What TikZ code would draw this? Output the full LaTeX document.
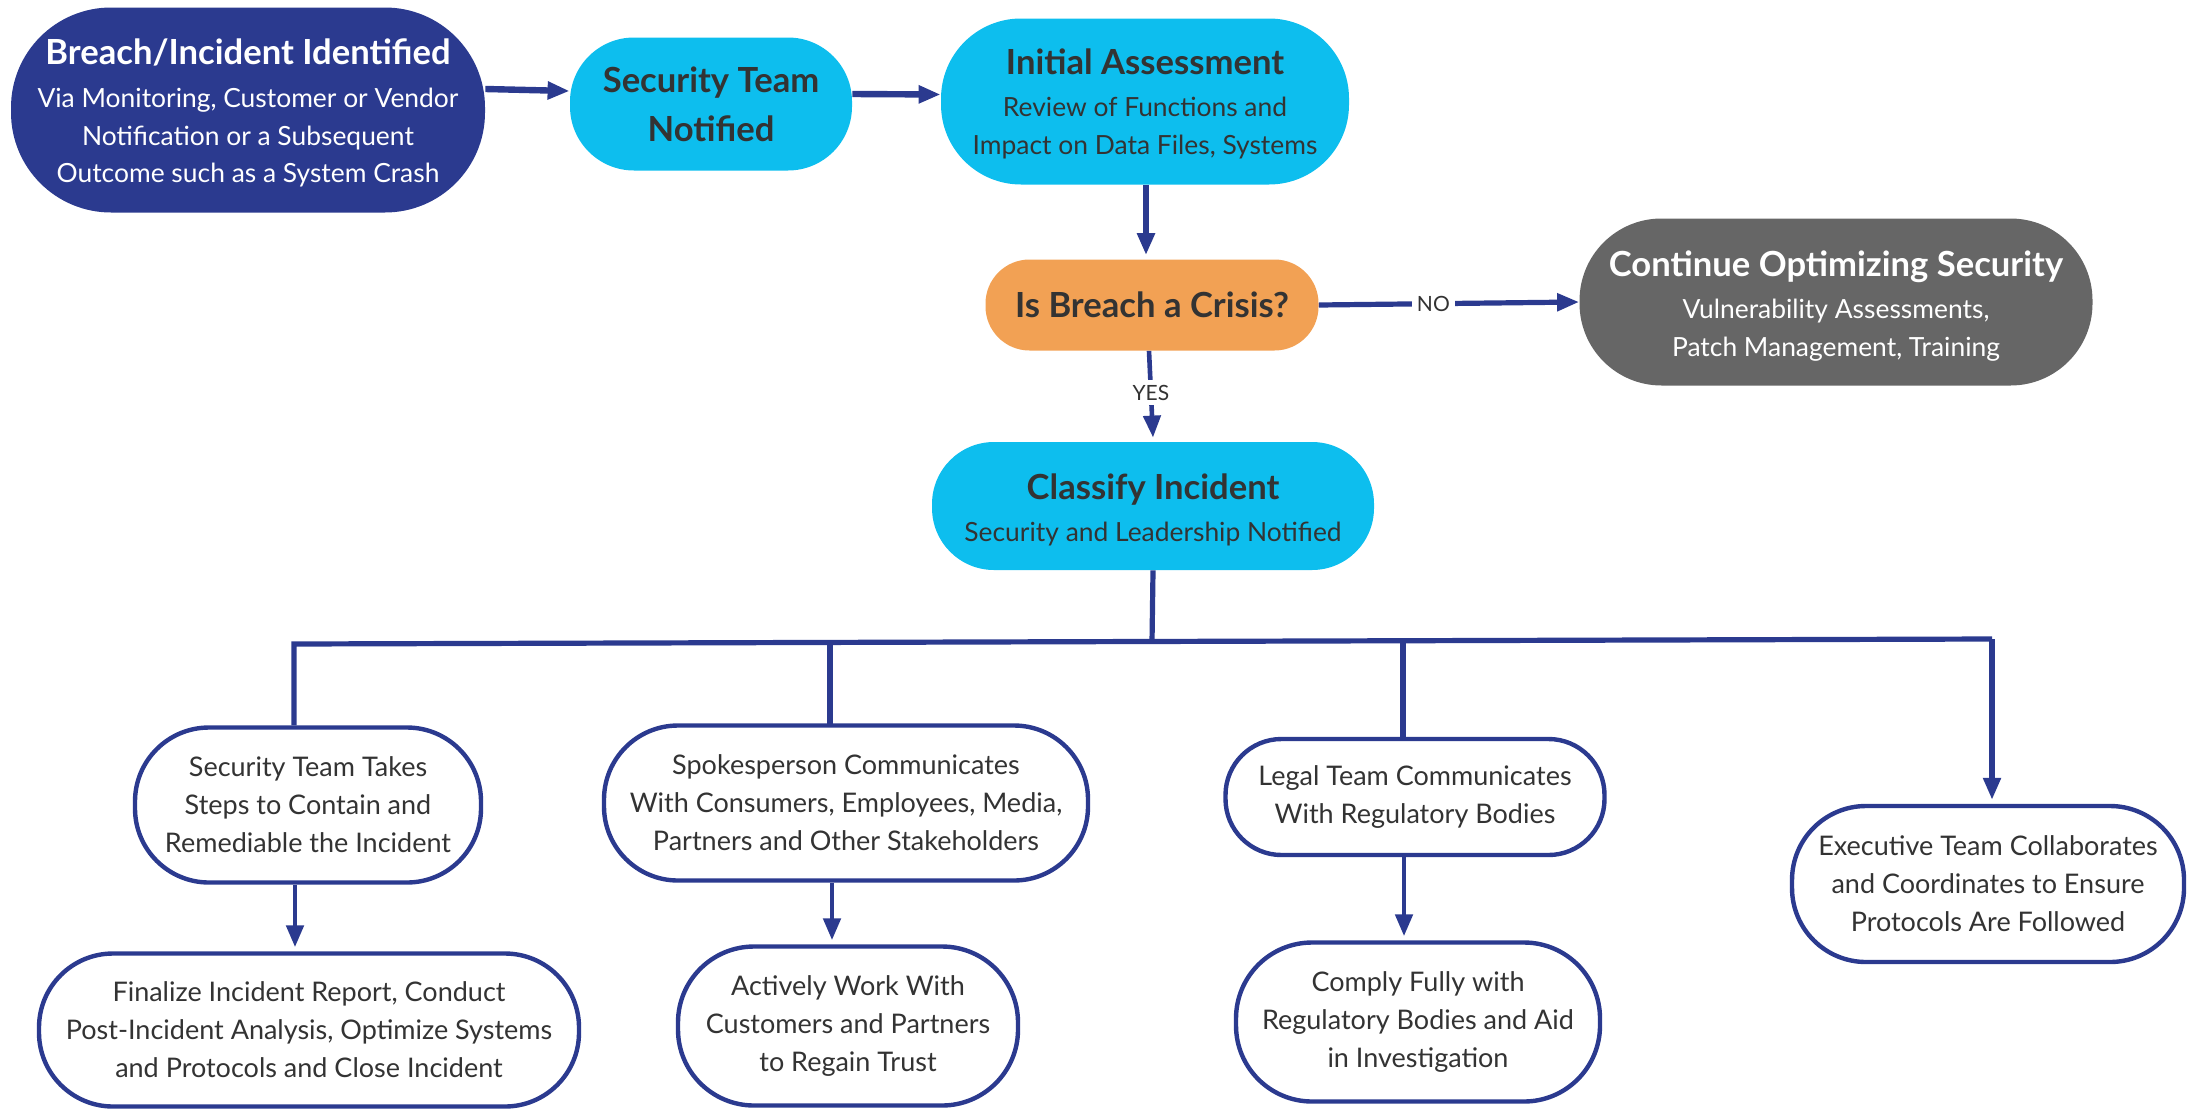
\documentclass[tikz,border=0pt]{standalone}
\usepackage{fontspec}
\setmainfont{Lato}
\usetikzlibrary{arrows.meta}
\definecolor{navy}{RGB}{43,58,143}
\definecolor{cyanfill}{RGB}{13,190,238}
\definecolor{orangefill}{RGB}{242,161,84}
\definecolor{grayfill}{RGB}{102,102,102}
\definecolor{txt}{RGB}{51,51,51}
\newcommand\ttlf{\fontsize{17.3}{21}\selectfont\bfseries}
\newcommand\bodyf{\fontsize{13.2}{18.9}\selectfont}
\newcommand\lowf{\fontsize{13.5}{19}\selectfont}
\newcommand\lblf{\fontsize{10.5}{12}\selectfont}
\begin{document}
\begin{tikzpicture}[x=0.5pt,y=-0.5pt,
  box/.style={align=center, inner sep=0pt, text=txt, font=\bodyf},
  darkbox/.style={box, fill=navy, text=white},
  cyanbox/.style={box, fill=cyanfill},
  orangebox/.style={box, fill=orangefill},
  graybox/.style={box, fill=grayfill, text=white},
  whitebox/.style={box, draw=navy, line width=2.2pt, fill=white, font=\lowf},
  conn/.style={draw=navy, line width=2.6pt},
  thick conn/.style={conn, line width=3.2pt},
  arr/.style={conn, -{Triangle[length=11pt,width=8.5pt]}},
  lbl/.style={fill=white, text=txt, font=\lblf, inner sep=2.5pt}
]
\useasboundingbox (0,0) rectangle (2187,1108);

\node[darkbox, minimum width=237pt, minimum height=102.5pt, rounded corners=50pt] (A) at (248,110)
  {{\ttlf\rule{0pt}{16pt}Breach/Incident Identified}\\[2.5pt]
   Via Monitoring, Customer or Vendor\\
   Notification or a Subsequent\\
   Outcome such as a System Crash};
\node[cyanbox, minimum width=141pt, minimum height=66.5pt, rounded corners=32pt] (B) at (711,104)
  {{\ttlf Security Team}\\[5.5pt]{\ttlf Notified}};
\node[cyanbox, minimum width=204pt, minimum height=83pt, rounded corners=40pt] (C) at (1145,101.5)
  {{\ttlf\rule{0pt}{15pt}Initial Assessment}\\[2pt]
   Review of Functions and\\
   Impact on Data Files, Systems};
\node[orangebox, minimum width=166.5pt, minimum height=45.5pt, rounded corners=22pt] (D) at (1152,305)
  {{\ttlf Is Breach a Crisis?}};
\node[graybox, minimum width=256.5pt, minimum height=83.5pt, rounded corners=41pt] (E) at (1836,302)
  {{\ttlf\rule{0pt}{17pt}Continue Optimizing Security}\\[2pt]
   Vulnerability Assessments,\\
   Patch Management, Training};
\node[cyanbox, minimum width=221pt, minimum height=64pt, rounded corners=31pt] (F) at (1153,506)
  {{\ttlf\rule{0pt}{17pt}Classify Incident}\\[2pt]
   Security and Leadership Notified};

\node[whitebox, minimum width=173pt, minimum height=77.5pt, rounded corners=37pt] (G1) at (308,805)
  {Security Team Takes\\Steps to Contain and\\Remediable the Incident};
\node[whitebox, minimum width=242pt, minimum height=77.5pt, rounded corners=37pt] (G2) at (846,803)
  {Spokesperson Communicates\\With Consumers, Employees, Media,\\Partners and Other Stakeholders};
\node[whitebox, minimum width=189.5pt, minimum height=58pt, rounded corners=28pt] (G3) at (1415,797)
  {Legal Team Communicates\\With Regulatory Bodies};
\node[whitebox, minimum width=196pt, minimum height=78pt, rounded corners=37pt] (G4) at (1988,884)
  {Executive Team Collaborates\\and Coordinates to Ensure\\Protocols Are Followed};
\node[whitebox, minimum width=270pt, minimum height=76.5pt, rounded corners=37pt] (H1) at (309,1030)
  {Finalize Incident Report, Conduct\\Post-Incident Analysis, Optimize Systems\\and Protocols and Close Incident};
\node[whitebox, minimum width=170pt, minimum height=79.5pt, rounded corners=38pt] (H2) at (848,1026)
  {Actively Work With\\Customers and Partners\\to Regain Trust};
\node[whitebox, minimum width=182pt, minimum height=79.5pt, rounded corners=38pt] (H3) at (1418,1022)
  {Comply Fully with\\Regulatory Bodies and Aid\\in Investigation};

% top row
\draw[arr, thick conn] ([yshift=10.5pt]A.east) -- ([yshift=6.5pt]B.west);
\draw[arr, thick conn] ([yshift=5pt]B.east) -- ([yshift=3.5pt]C.west);
\draw[arr, thick conn] ([xshift=0.5pt]C.south) -- ([yshift=2pt,xshift=-3pt]D.north);
\draw[arr] (D.east) -- node[lbl, pos=0.44]{NO} (E.west);
\draw[arr, line width=2.3pt] ([xshift=-1.5pt]D.south) -- node[lbl, pos=0.48]{YES} ([yshift=2pt]F.north);

% bus
\coordinate (busC) at (1152,642);
\coordinate (busL) at (294,644);
\coordinate (busR) at (1992,639);
\draw[conn] (F.south) -- (busC);
\draw[conn, line join=miter] (busL |- G1.north) -- (busL) -- (busR);
\draw[conn] (830,643) -- (830,725);
\draw[conn] (1403,640) -- (1403,739);
\draw[arr] (busR) -- ([yshift=2pt]G4.north -| busR);

% second level
\draw[arr, line width=2.4pt] (G1.south -| 295,0) -- ([yshift=2pt]H1.north -| 295,0);
\draw[arr, line width=2.4pt] (G2.south -| 832,0) -- ([yshift=2pt]H2.north -| 832,0);
\draw[arr, line width=2.4pt] (G3.south -| 1404,0) -- ([yshift=2pt]H3.north -| 1404,0);
\end{tikzpicture}
\end{document}
